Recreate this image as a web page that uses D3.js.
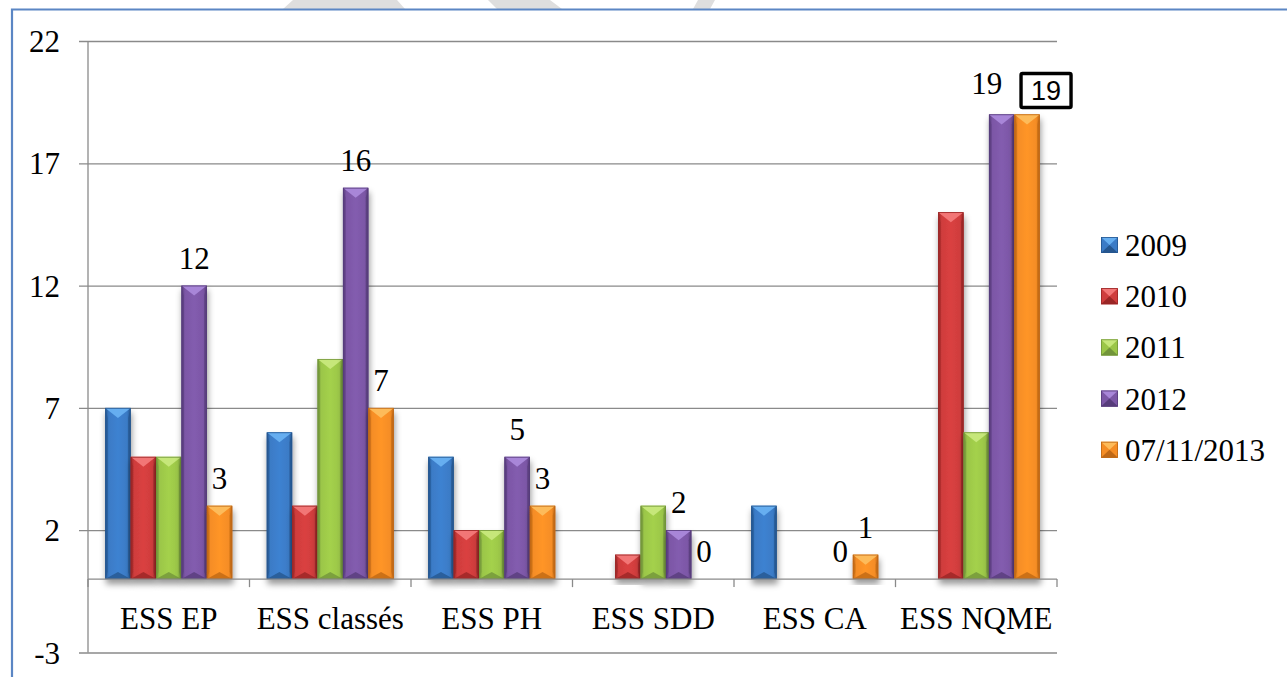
<!DOCTYPE html>
<html>
<head>
<meta charset="utf-8">
<script src="https://cdn.jsdelivr.net/npm/d3@7"></script>
<style>
  html, body { margin: 0; padding: 0; background: #fff; }
  svg { display: block; }
  text { font-family: "Liberation Serif", "Times New Roman", serif; }
</style>
</head>
<body>
<svg id="chart" width="1287" height="677"></svg>
<script>
// ---- data ----
const categories = ["ESS EP", "ESS classés", "ESS PH", "ESS SDD", "ESS CA", "ESS NQME"];
const seriesNames = ["2009", "2010", "2011", "2012", "07/11/2013"];
const v2009 = [7, 6, 5, 0, 3, 0];
const v2010 = [5, 3, 2, 1, 0, 15];
const v2011 = [5, 9, 2, 3, 0, 6];
const v2012 = [12, 16, 5, 2, 0, 19];
const v2013 = [3, 7, 3, 0, 1, 19];
const seriesValues = [v2009, v2010, v2011, v2012, v2013];
const labelledSeries = ["2012", "07/11/2013"];
const yTicks = [-3, 2, 7, 12, 17, 22];

// ---- styling ----
const palette = {
  "2009":       { base: "#3b7bc6", light: "#66aef0", dark: "#25568f" },
  "2010":       { base: "#cf3d3d", light: "#f27676", dark: "#9a2626" },
  "2011":       { base: "#9bc648", light: "#c6e77a", dark: "#72953a" },
  "2012":       { base: "#7c57a6", light: "#a886d8", dark: "#573c7b" },
  "07/11/2013": { base: "#f58d25", light: "#fdbb5a", dark: "#bf6816" }
};
const fontSize = 31;
const gridColor = "#8a8a8a";

const svg = d3.select("#chart");
const defs = svg.append("defs");

// soft shadow beneath bars
const shadow = defs.append("filter").attr("id", "barShadow")
  .attr("x", "-30%").attr("y", "-10%").attr("width", "160%").attr("height", "130%");
shadow.append("feDropShadow").attr("dx", 1).attr("dy", 5).attr("stdDeviation", 3)
  .attr("flood-color", "#000").attr("flood-opacity", 0.4);

// horizontal shading across each bar
seriesNames.forEach((s, i) => {
  const c = palette[s];
  const g = defs.append("linearGradient").attr("id", "grad" + i)
    .attr("x1", "0%").attr("x2", "100%").attr("y1", "0%").attr("y2", "0%");
  g.append("stop").attr("offset", "0%").attr("stop-color", c.dark);
  g.append("stop").attr("offset", "14%").attr("stop-color", c.base);
  g.append("stop").attr("offset", "50%").attr("stop-color", d3.color(c.base).brighter(0.15));
  g.append("stop").attr("offset", "86%").attr("stop-color", c.base);
  g.append("stop").attr("offset", "100%").attr("stop-color", c.dark);
});

// page decoration above the frame
const deco = [
  [[293, 0], [397, 0], [405, 9], [283, 9]],
  [[488, 0], [550, 0], [562, 9], [497, 9]],
  [[698, 0], [715, 0], [710, 9], [693, 9]]
];
svg.selectAll("polygon.deco").data(deco).enter().append("polygon")
  .attr("class", "deco").attr("points", d => d.join(" ")).attr("fill", "#dedede");

// frame
svg.append("path").attr("d", "M1300,9.5 L12,9.5 L12,700")
  .attr("fill", "none").attr("stroke", "#5b86c4").attr("stroke-width", 2.2);

// ---- scales ----
const plotLeft = 88, plotRight = 1057;
const y = d3.scaleLinear().domain([-3, 22]).range([652.5, 41]);
const x0 = d3.scaleBand().domain(categories).range([plotLeft, plotRight]).padding(0);
const x1 = d3.scaleBand().domain(seriesNames).range([0, x0.bandwidth()])
  .paddingInner(0).paddingOuter(0.68);

// value axis with gridlines
const yAxis = svg.append("g").attr("transform", `translate(${plotLeft - 9},0)`)
  .call(d3.axisLeft(y).tickValues(yTicks).tickSize(-(plotRight - plotLeft + 9)).tickPadding(19)
    .tickFormat(d => String(d)));
yAxis.select(".domain").remove();
yAxis.selectAll("line").attr("stroke", gridColor).attr("stroke-width", 1.3);
yAxis.selectAll("text").attr("font-size", fontSize).attr("fill", "#000").attr("dy", "0.34em");

svg.append("line").attr("x1", plotLeft).attr("x2", plotLeft)
  .attr("y1", y(22)).attr("y2", y(-3)).attr("stroke", gridColor).attr("stroke-width", 1.3);

// bars
function drawBar(g, x, top, w, h, c, gradId) {
  const t = Math.min(10, h / 2.2);
  const b = Math.min(7, h / 2.6);
  const s = 2.5;
  g.append("rect").attr("x", x).attr("y", top).attr("width", w).attr("height", h)
    .attr("fill", `url(#${gradId})`);
  // side edges
  g.append("polygon").attr("points", [[x, top], [x + s, top + t], [x + s, top + h - b], [x, top + h]].join(" "))
    .attr("fill", c.dark).attr("opacity", 0.55);
  g.append("polygon").attr("points", [[x + w, top], [x + w - s, top + t], [x + w - s, top + h - b], [x + w, top + h]].join(" "))
    .attr("fill", c.dark).attr("opacity", 0.7);
  // top bevel
  g.append("polygon").attr("points", [[x, top], [x + w, top], [x + w / 2, top + t]].join(" "))
    .attr("fill", c.light);
  // bottom bevel
  g.append("polygon").attr("points", [[x, top + h], [x + w, top + h], [x + w / 2, top + h - b]].join(" "))
    .attr("fill", c.dark).attr("opacity", 0.8);
  g.append("rect").attr("x", x + 0.4).attr("y", top + 0.4).attr("width", w - 0.8).attr("height", h - 0.8)
    .attr("fill", "none").attr("stroke", c.dark).attr("stroke-width", 0.8);
}

const barData = [];
categories.forEach((cat, ci) => {
  seriesNames.forEach((s, si) => {
    barData.push({ cat, series: s, si, value: seriesValues[si][ci] });
  });
});

const barLayer = svg.append("g");
barData.filter(d => d.value > 0).forEach(d => {
  const g = barLayer.append("g").attr("filter", "url(#barShadow)");
  const x = x0(d.cat) + x1(d.series);
  const top = y(d.value);
  drawBar(g, x, top, x1.bandwidth(), y(0) - top, palette[d.series], "grad" + d.si);
});

// category axis
svg.append("line").attr("x1", plotLeft).attr("x2", plotRight)
  .attr("y1", y(0)).attr("y2", y(0)).attr("stroke", gridColor).attr("stroke-width", 1.3);
const bounds = categories.map(c => x0(c)).concat([plotRight]);
svg.selectAll("line.ctick").data(bounds).enter().append("line").attr("class", "ctick")
  .attr("x1", d => d).attr("x2", d => d).attr("y1", y(0)).attr("y2", y(0) + 8)
  .attr("stroke", gridColor).attr("stroke-width", 1.3);
svg.selectAll("text.cat").data(categories).enter().append("text").attr("class", "cat")
  .attr("x", d => x0(d) + x0.bandwidth() / 2).attr("y", 629)
  .attr("text-anchor", "middle").attr("font-size", fontSize).text(d => d);

// value labels (2012 and 2013 series)
const nudge = { "ESS NQME|2012": { dx: -15, dy: -3 } };
const labelData = barData.filter(d => labelledSeries.includes(d.series));
labelData.forEach(d => {
  const cx = x0(d.cat) + x1(d.series) + x1.bandwidth() / 2;
  const n = nudge[d.cat + "|" + d.series] || { dx: 0, dy: 0 };
  const boxed = d.cat === "ESS NQME" && d.series === "07/11/2013";
  if (boxed) {
    const bx = cx + 19, by = 90;
    svg.append("rect").attr("x", bx - 25).attr("y", by - 16.5).attr("width", 50).attr("height", 34)
      .attr("rx", 1.5).attr("fill", "#fff").attr("stroke", "#000").attr("stroke-width", 3.4);
    svg.append("text").attr("x", bx).attr("y", by + 9.5).attr("text-anchor", "middle")
      .attr("font-size", 27)
      .style("font-family", "'Liberation Sans', Arial, sans-serif").text(d.value);
  } else {
    svg.append("text").attr("x", cx + n.dx).attr("y", y(d.value) - 17 + n.dy)
      .attr("text-anchor", "middle").attr("font-size", fontSize).text(d.value);
  }
});

// legend
const legend = svg.append("g");
seriesNames.forEach((s, i) => {
  const base = 256 + i * 51.2;
  const g = legend.append("g");
  const c = palette[s];
  const x = 1101, top = base - 19, w = 17, h = 16;
  g.append("rect").attr("x", x).attr("y", top).attr("width", w).attr("height", h).attr("fill", c.base);
  g.append("polygon").attr("points", [[x, top], [x + w, top], [x + w / 2, top + h / 2]].join(" ")).attr("fill", c.light);
  g.append("polygon").attr("points", [[x, top + h], [x + w, top + h], [x + w / 2, top + h / 2]].join(" ")).attr("fill", c.dark);
  g.append("rect").attr("x", x + 0.4).attr("y", top + 0.4).attr("width", w - 0.8).attr("height", h - 0.8)
    .attr("fill", "none").attr("stroke", c.dark).attr("stroke-width", 0.8);
  legend.append("text").attr("x", 1125).attr("y", base).attr("font-size", fontSize).text(s);
});
</script>
</body>
</html>
